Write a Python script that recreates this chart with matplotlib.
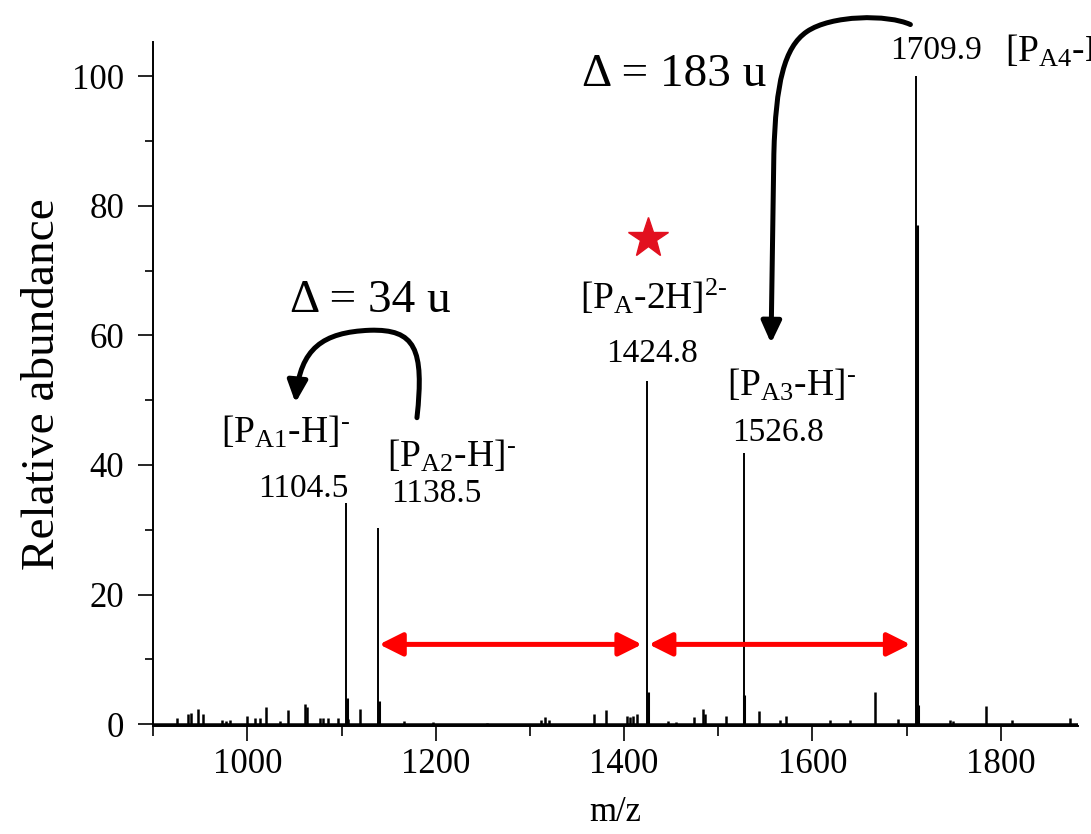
import matplotlib
matplotlib.use('Agg')
import matplotlib.pyplot as plt
from matplotlib.path import Path
from matplotlib.patches import FancyArrowPatch

plt.rcParams['font.family'] = ['Liberation Serif', 'DejaVu Serif']
plt.rcParams['mathtext.fontset'] = 'custom'
plt.rcParams['mathtext.rm'] = 'Liberation Serif'
plt.rcParams['mathtext.it'] = 'Liberation Serif:italic'

# labelled peaks
main_mz = [1104.5, 1138.5, 1424.8, 1526.8, 1709.9]
main_int = [34.2, 30.3, 52.9, 41.9, 100.0]
main_num = ['1104.5', '1138.5', '1424.8', '1526.8', '1709.9']
main_ion = [r'[P$_{\rm A1}$-H]$^{\text{-}}$', r'[P$_{\rm A2}$-H]$^{\text{-}}$',
            r'[P$_{\rm A}$-2H]$^{\text{2-}}$', r'[P$_{\rm A3}$-H]$^{\text{-}}$',
            r'[P$_{\rm A4}$-H]$^{\text{-}}$']

# isotope / shoulder peaks next to the big ones
iso_mz = [1105.3, 1139.3, 1425.6, 1527.6, 1710.6, 1711.8]
iso_int = [4.0, 3.5, 5.0, 4.5, 77.0, 3.0]

# small peaks in the baseline
minor_mz = [925.6, 936.5, 940.0, 947.0, 953.0, 973.0, 977.0, 981.0, 1000.0,
            1008.0, 1013.0, 1020.0, 1034.6, 1042.7, 1061.0, 1063.0, 1077.0,
            1080.0, 1085.6, 1096.5, 1107.0, 1120.0, 1166.0, 1196.7, 1254.0,
            1312.0, 1316.0, 1320.0, 1368.0, 1380.5, 1403.0, 1406.0, 1409.0,
            1413.7, 1446.7, 1455.0, 1474.0, 1483.5, 1486.0, 1508.0, 1543.7,
            1565.6, 1571.7, 1618.8, 1640.0, 1666.5, 1690.6, 1746.0, 1749.0,
            1784.0, 1811.7, 1873.6]
minor_int = [1.0, 1.6, 1.7, 2.3, 1.6, 0.6, 0.5, 0.6, 1.3,
             1.0, 1.0, 2.6, 0.5, 2.2, 3.1, 2.6, 1.0,
             0.9, 0.9, 1.0, 0.8, 2.3, 0.4, 0.3, 0.2,
             0.6, 1.1, 0.7, 1.5, 2.1, 1.2, 1.1, 1.3,
             1.6, 0.4, 0.3, 1.1, 2.3, 1.6, 1.3, 2.0,
             0.7, 1.3, 0.6, 0.6, 5.0, 0.8, 0.6, 0.5,
             2.8, 0.6, 1.0]

fig = plt.figure(figsize=(10.91, 8.34), dpi=100)
ax = fig.add_axes([0.1405, 0.1295, 0.8476, 0.8201])

ax.axhline(0, color='black', lw=1.8, zorder=2)
ax.vlines(minor_mz, 0, minor_int, color='black', lw=1.8)
ax.vlines(iso_mz, 0, iso_int, color='black', lw=2.2)
ax.vlines(main_mz, 0, main_int, color='black', lw=1.4)

ax.set_xlim(900, 1882)
ax.set_ylim(-0.3, 105.3)
ax.set_xticks(range(1000, 1801, 200))
ax.set_xticks(range(900, 1881, 100), minor=True)
ax.set_yticks(range(0, 101, 20))
ax.set_yticks(range(10, 100, 20), minor=True)
for s in ['top', 'right']:
    ax.spines[s].set_visible(False)
for s in ['left', 'bottom']:
    ax.spines[s].set_linewidth(1.4)
ax.tick_params(axis='both', which='major', direction='out', length=10.8,
               width=1.2, labelsize=25)
ax.tick_params(axis='x', which='minor', direction='out', length=7, width=1.2)
ax.tick_params(axis='y', which='minor', direction='out', length=5.8, width=1.2)
ax.tick_params(axis='x', which='major', pad=5)
ax.tick_params(axis='y', which='major', pad=10)
ax.set_xlabel('m/z', fontsize=25, labelpad=11)
ax.set_ylabel('Relative abundance', fontsize=34, labelpad=6)

# peak labels
num_pos = [(1059, 36.4), (1201, 35.6), (1430, 57.2), (1563, 44.9), (1731, 103.9)]
ion_pos = [(1040, 45.0), (1217, 41.4), (1432, 66.0), (1578, 52.3)]
for (x, y), t in zip(num_pos, main_num):
    ax.text(x, y, t, fontsize=24, ha='center', va='center', clip_on=False)
for (x, y), t in zip(ion_pos, main_ion[:4]):
    ax.text(x, y, t, fontsize=27, ha='center', va='center', clip_on=False)
# last label runs off the right edge, as in the source figure
ax.text(1804, 103.9, main_ion[4], fontsize=27, ha='left', va='center',
        clip_on=False)

ax.text(1130, 65.3, u'\u0394 = 34 u', fontsize=34, ha='center', va='center')
ax.text(1453, 100.3, u'\u0394 = 183 u', fontsize=34, ha='center', va='center',
        clip_on=False)

# red star over the doubly charged ion
ax.plot([1425], [75], marker='*', ms=30, color='#e2101f', mec='#e2101f',
        clip_on=False)

# red double arrows between the peaks
for a, b in [(main_mz[1], main_mz[2]), (main_mz[2], main_mz[4])]:
    ax.annotate('', xy=(b, 12.3), xytext=(a, 12.3),
                arrowprops=dict(arrowstyle='<|-|>,head_length=0.7,head_width=0.35',
                                mutation_scale=20, color='#ff0000', lw=3.6,
                                shrinkA=1, shrinkB=4))

# curved black arrows
p1 = Path([(1180, 47.3), (1188, 58), (1178, 61), (1130, 60.8),
           (1080, 60.5), (1056, 58), (1051, 49.6)],
          [Path.MOVETO, Path.CURVE4, Path.CURVE4, Path.CURVE4,
           Path.CURVE4, Path.CURVE4, Path.CURVE4])
p2 = Path([(1704, 108.0), (1680, 109.6), (1620, 109.5), (1594, 106.9),
           (1570, 104.5), (1561, 99), (1559, 88), (1556, 58.8)],
          [Path.MOVETO, Path.CURVE4, Path.CURVE4, Path.CURVE4,
           Path.CURVE4, Path.CURVE4, Path.CURVE4, Path.LINETO])
for p in [p1, p2]:
    arr = FancyArrowPatch(path=p, arrowstyle='-|>,head_length=0.65,head_width=0.3',
                          mutation_scale=20, color='black', lw=3.6,
                          transform=ax.transData, clip_on=False)
    ax.add_patch(arr)

fig.savefig('out.png', dpi=100)
